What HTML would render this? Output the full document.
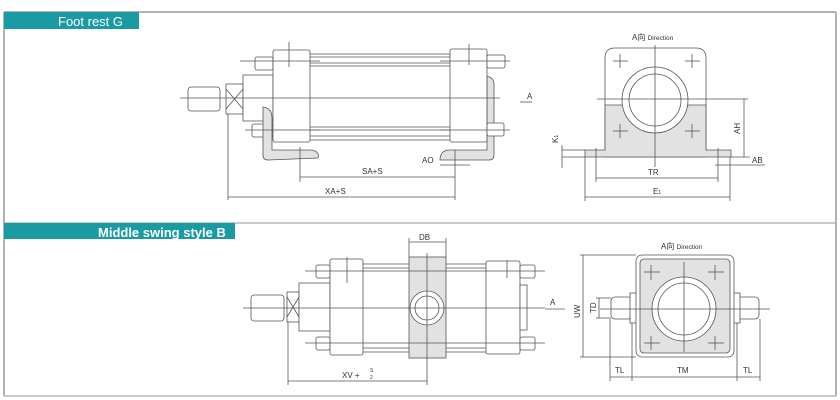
<!DOCTYPE html>
<html><head><meta charset="utf-8"><style>
html,body{margin:0;padding:0;background:#fff;}
svg{display:block;font-family:"Liberation Sans","Noto Sans CJK SC",sans-serif;}
.l{stroke:#555;stroke-width:0.8;fill:none;}
.f{stroke:#555;stroke-width:0.8;fill:#fff;}
.g{stroke:#555;stroke-width:0.8;fill:#e2e2e2;}
.t{font-size:8px;fill:#333;}
</style></head><body>
<svg width="840" height="400" viewBox="0 0 840 400">
<!-- frame -->
<line x1="4" y1="12" x2="836" y2="12" stroke="#999" stroke-width="1.5"/>
<line x1="4" y1="12" x2="4" y2="396" stroke="#999" stroke-width="1.5"/>
<line x1="836" y1="12" x2="836" y2="396" stroke="#999" stroke-width="1.5"/>
<line x1="4" y1="223" x2="836" y2="223" stroke="#aaa" stroke-width="1.2"/>
<line x1="4" y1="396" x2="836" y2="396" stroke="#aaa" stroke-width="1.2"/>
<rect x="4" y="12" width="135" height="17" fill="#1a9aa3"/>
<text x="58" y="26" font-size="13" fill="#fff">Foot rest G</text>
<rect x="4" y="223" width="231" height="16" fill="#1a9aa3"/>
<text x="98" y="237" font-size="13" font-weight="bold" fill="#fff">Middle swing style B</text>

<!-- ===== Foot rest side view ===== -->
<rect class="f" x="188" y="87" width="32" height="24" rx="3"/>
<rect class="f" x="226" y="84" width="17" height="30"/>
<line class="l" x1="226" y1="89" x2="243" y2="109"/><line class="l" x1="243" y1="89" x2="226" y2="109"/>
<rect class="f" x="243" y="75" width="30" height="46"/>
<rect class="f" x="255" y="57" width="18" height="13" rx="2"/>
<rect class="f" x="252" y="124" width="21" height="13" rx="2"/>
<g class="l">
<line x1="310" y1="54" x2="450" y2="54"/><line x1="310" y1="57" x2="450" y2="57"/>
<line x1="310" y1="63" x2="450" y2="63"/><line x1="310" y1="66" x2="450" y2="66"/>
<line x1="310" y1="127" x2="450" y2="127"/><line x1="310" y1="130" x2="450" y2="130"/>
<line x1="310" y1="136" x2="450" y2="136"/><line x1="310" y1="140" x2="450" y2="140"/>
</g>
<path class="g" d="M263 107 Q272 108 272 118 L272 150 L312 150 Q320 152 318 158 L268 160 Q263 160 263 155 Z"/>
<path class="g" d="M487 76 Q494 78 494 84 L494 155 Q494 160 489 160 L440 160 Q440 150 450 150 L487 150 Z"/>
<rect class="f" x="273" y="50" width="37" height="92" rx="2"/>
<rect class="f" x="450" y="49" width="37" height="93" rx="2"/>
<rect class="f" x="487" y="55" width="18" height="13" rx="2"/>
<rect class="f" x="487" y="123" width="17" height="13" rx="2"/>
<g class="l">
<line x1="180" y1="98" x2="500" y2="98"/>
<line x1="240" y1="61" x2="320" y2="61"/><line x1="245" y1="130" x2="320" y2="130"/>
<line x1="440" y1="61" x2="510" y2="61"/><line x1="440" y1="130" x2="510" y2="130"/>
<line x1="289" y1="42" x2="289" y2="67"/><line x1="469" y1="44" x2="469" y2="65"/>
<line x1="300" y1="147" x2="300" y2="182"/><line x1="455" y1="150" x2="455" y2="200"/>
<line x1="228" y1="114" x2="228" y2="200"/>
<line x1="300" y1="177" x2="455" y2="177"/><line x1="228" y1="197" x2="455" y2="197"/>
<line x1="440" y1="165" x2="470" y2="165"/>
<line x1="520" y1="102" x2="532" y2="102"/>
</g>
<text class="t" x="362" y="174">SA+S</text>
<text class="t" x="325" y="194">XA+S</text>
<text class="t" x="422" y="163">AO</text>
<text class="t" x="527" y="99">A</text>

<!-- ===== Foot rest front view ===== -->
<path class="f" d="M605 157 L605 58 Q605 48 615 48 L696 48 Q706 48 706 58 L706 157 Z"/>
<path class="g" d="M605 105 L625 105 A33 33 0 0 0 688 105 L706 105 L706 150 L731 150 L731 157 L585 157 L585 150 L605 150 Z"/>
<circle class="f" cx="655" cy="100" r="33"/>
<circle class="f" cx="655" cy="100" r="26"/>
<g class="l">
<line x1="597" y1="99" x2="748" y2="99"/><line x1="655" y1="45" x2="655" y2="167"/>
<line x1="613" y1="61" x2="628" y2="61"/><line x1="620" y1="54" x2="620" y2="68"/>
<line x1="685" y1="61" x2="700" y2="61"/><line x1="692" y1="54" x2="692" y2="68"/>
<line x1="613" y1="131" x2="628" y2="131"/><line x1="620" y1="124" x2="620" y2="138"/>
<line x1="685" y1="131" x2="700" y2="131"/><line x1="692" y1="124" x2="692" y2="138"/>
<line x1="596" y1="148" x2="596" y2="182"/><line x1="718" y1="148" x2="718" y2="182"/>
<line x1="585" y1="157" x2="585" y2="201"/><line x1="730" y1="157" x2="730" y2="201"/>
<line x1="596" y1="178" x2="718" y2="178"/><line x1="585" y1="197" x2="730" y2="197"/>
<line x1="744" y1="99" x2="744" y2="157"/><line x1="731" y1="157" x2="750" y2="157"/>
<line x1="715" y1="165" x2="765" y2="165"/>
<line x1="562" y1="145" x2="562" y2="168"/><line x1="562" y1="150" x2="585" y2="150"/><line x1="562" y1="157" x2="585" y2="157"/>
</g>
<text class="t" x="632" y="40">A向 <tspan font-size="6.5">Direction</tspan></text>
<text class="t" x="648" y="175">TR</text>
<text class="t" x="653" y="194">E<tspan font-size="5">1</tspan></text>
<text class="t" x="752" y="163">AB</text>
<text class="t" transform="translate(740,134) rotate(-90)">AH</text>
<text class="t" transform="translate(558,143) rotate(-90)">K<tspan font-size="5">1</tspan></text>

<!-- ===== Middle swing side view ===== -->
<rect class="f" x="251" y="295" width="33" height="26" rx="3"/>
<rect class="f" x="287" y="292" width="12" height="30"/>
<line class="l" x1="287" y1="297" x2="299" y2="317"/><line class="l" x1="299" y1="297" x2="287" y2="317"/>
<rect class="f" x="299" y="283" width="31" height="48"/>
<rect class="f" x="316" y="265" width="14" height="13" rx="2"/>
<rect class="f" x="316" y="337" width="14" height="13" rx="2"/>
<g class="l">
<line x1="363" y1="264" x2="486" y2="264"/><line x1="363" y1="268" x2="486" y2="268"/>
<line x1="363" y1="348" x2="486" y2="348"/><line x1="363" y1="352" x2="486" y2="352"/>
</g>
<rect class="f" x="330" y="259" width="33" height="96" rx="2"/>
<rect class="g" x="409" y="257" width="37" height="101"/>
<circle class="f" cx="427" cy="308" r="17"/><circle class="l" cx="427" cy="308" r="12"/>
<rect class="f" x="486" y="261" width="34" height="93" rx="2"/>
<rect class="f" x="520" y="285" width="7" height="45"/>
<rect class="f" x="520" y="265" width="15" height="13" rx="2"/>
<rect class="f" x="520" y="337" width="15" height="13" rx="2"/>
<g class="l">
<line x1="243" y1="308" x2="545" y2="308"/>
<line x1="305" y1="271" x2="545" y2="271"/><line x1="305" y1="343" x2="545" y2="343"/>
<line x1="347" y1="257" x2="347" y2="283"/><line x1="507" y1="260" x2="507" y2="278"/>
<line x1="427" y1="253" x2="427" y2="385"/>
<line x1="409" y1="238" x2="409" y2="257"/><line x1="446" y1="238" x2="446" y2="257"/>
<line x1="409" y1="242" x2="446" y2="242"/>
<line x1="288" y1="322" x2="288" y2="385"/><line x1="288" y1="381" x2="427" y2="381"/>
<line x1="545" y1="309" x2="565" y2="309"/>
</g>
<text class="t" x="419" y="240">DB</text>
<text class="t" x="342" y="378">XV  +</text>
<text x="370" y="372" font-size="5" fill="#333">S</text><text x="370" y="379" font-size="5" fill="#333">2</text>
<text class="t" x="550" y="305">A</text>

<!-- ===== Middle swing front view ===== -->
<rect class="f" x="611" y="297" width="21" height="22" rx="4"/>
<rect class="f" x="737" y="297" width="22" height="22" rx="4"/>
<rect class="f" x="630" y="293" width="7" height="30"/>
<rect class="f" x="733" y="293" width="7" height="30"/>
<rect class="f" x="636" y="255" width="98" height="102" rx="6"/>
<rect class="g" x="640" y="259" width="90" height="94" rx="4"/>
<circle class="f" cx="684" cy="309" r="32"/><circle class="f" cx="684" cy="309" r="26"/>
<g class="l">
<line x1="600" y1="309" x2="770" y2="309"/><line x1="684" y1="262" x2="684" y2="352"/>
<line x1="644" y1="272" x2="660" y2="272"/><line x1="651" y1="265" x2="651" y2="280"/>
<line x1="708" y1="272" x2="724" y2="272"/><line x1="715" y1="265" x2="715" y2="280"/>
<line x1="644" y1="343" x2="660" y2="343"/><line x1="651" y1="336" x2="651" y2="350"/>
<line x1="708" y1="343" x2="724" y2="343"/><line x1="715" y1="336" x2="715" y2="350"/>
<line x1="580" y1="255" x2="636" y2="255"/><line x1="580" y1="357" x2="636" y2="357"/>
<line x1="583" y1="255" x2="583" y2="357"/>
<line x1="596" y1="298" x2="611" y2="298"/><line x1="596" y1="318" x2="611" y2="318"/>
<line x1="599" y1="298" x2="599" y2="318"/>
<line x1="610" y1="319" x2="610" y2="381"/><line x1="632" y1="323" x2="632" y2="381"/>
<line x1="737" y1="323" x2="737" y2="381"/><line x1="760" y1="319" x2="760" y2="381"/>
<line x1="610" y1="377" x2="760" y2="377"/>
</g>
<text class="t" x="661" y="249">A向 <tspan font-size="6.5">Direction</tspan></text>
<text class="t" x="615" y="373">TL</text>
<text class="t" x="677" y="373">TM</text>
<text class="t" x="743" y="373">TL</text>
<text class="t" transform="translate(580,318) rotate(-90)">UW</text>
<text class="t" transform="translate(596,313) rotate(-90)">TD</text>
</svg>
</body></html>
